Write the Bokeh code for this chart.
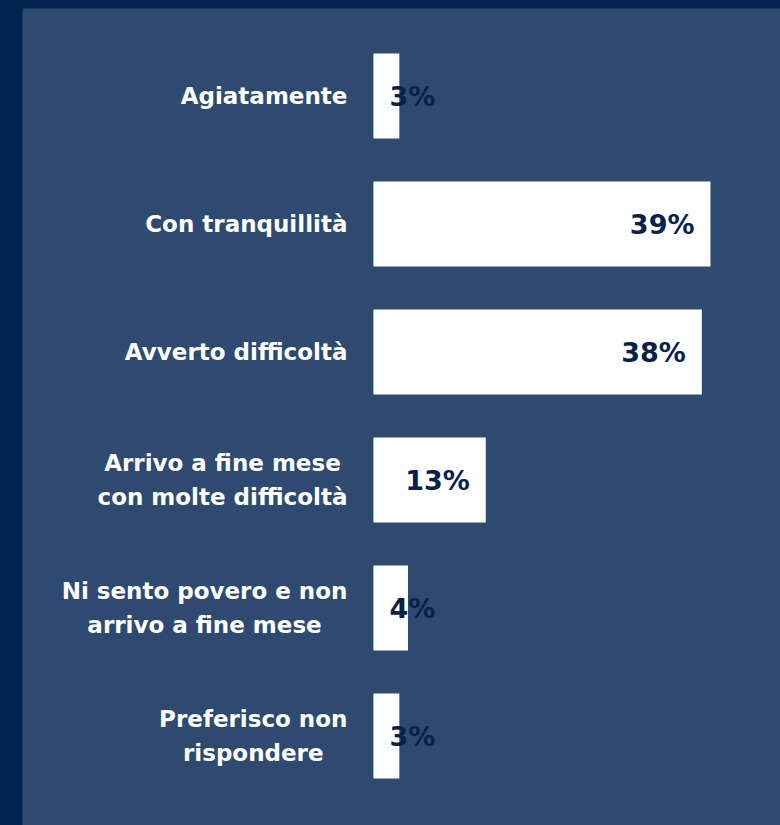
from bokeh.plotting import figure
from bokeh.models import ColumnDataSource, Range1d
from bokeh.core.properties import value
from bokeh.embed import file_html
from bokeh.resources import INLINE

# ---- data ----
categories = [
    "Agiatamente",
    "Con tranquillità",
    "Avverto difficoltà",
    "Arrivo a fine mese\ncon molte difficoltà",
    "Ni sento povero e non\narrivo a fine mese",
    "Preferisco non\nrispondere",
]
values = [3, 39, 38, 13, 4, 3]
value_labels = ["3%", "39%", "38%", "13%", "4%", "3%"]

# ---- style ----
DARK = "#00244f"
PANEL = "#2e4a71"
VALUE_COLOR = "#0a2149"
FONT = "DejaVu Sans"

idx = list(range(len(categories)))
src = ColumnDataSource(dict(y=idx, v=values, cat=categories, lab=value_labels,
                            zero=[0] * len(values)))

big = [i for i, v in enumerate(values) if v >= 8]
small = [i for i, v in enumerate(values) if v < 8]
src_big = ColumnDataSource(dict(y=[idx[i] for i in big], v=[values[i] for i in big],
                                lab=[value_labels[i] for i in big]))
src_small = ColumnDataSource(dict(y=[idx[i] for i in small], v=[0] * len(small),
                                  lab=[value_labels[i] for i in small]))

p = figure(width=758, height=817, output_backend="svg", toolbar_location=None,
           x_range=Range1d(-40.6, 47.1), y_range=Range1d(5.699, -0.684),
           min_border_left=0, min_border_top=0, min_border_right=0, min_border_bottom=0)
p.margin = (8, 0, 0, 22)
p.axis.visible = False
p.grid.visible = False
p.outline_line_color = None
p.background_fill_color = PANEL
p.border_fill_color = PANEL

p.hbar(y="y", left=0, right="v", height=0.664, source=src,
       fill_color="white", line_color=None)

# category labels
p.text(x="zero", y="y", text="cat", source=src, x_offset=-26,
       anchor="center_right", text_align="center", text_baseline="middle",
       text_color="white", text_font=value(FONT), text_font_style="bold",
       text_font_size="23px", text_line_height=1.32)

# value labels: inside end for large bars, inside start for small bars
p.text(x="v", y="y", text="lab", source=src_big, x_offset=-16,
       text_align="right", text_baseline="middle",
       text_color=VALUE_COLOR, text_font=value(FONT), text_font_style="bold",
       text_font_size="27px")
p.text(x="v", y="y", text="lab", source=src_small, x_offset=16,
       text_align="left", text_baseline="middle",
       text_color=VALUE_COLOR, text_font=value(FONT), text_font_style="bold",
       text_font_size="27px")

html = file_html(p, INLINE)
style = "<style>html,body{margin:0 !important;padding:0;background:%s !important;overflow:hidden;}</style>" % DARK
html = html.replace("</head>", style + "</head>", 1)
open("out.html", "w").write(html)
